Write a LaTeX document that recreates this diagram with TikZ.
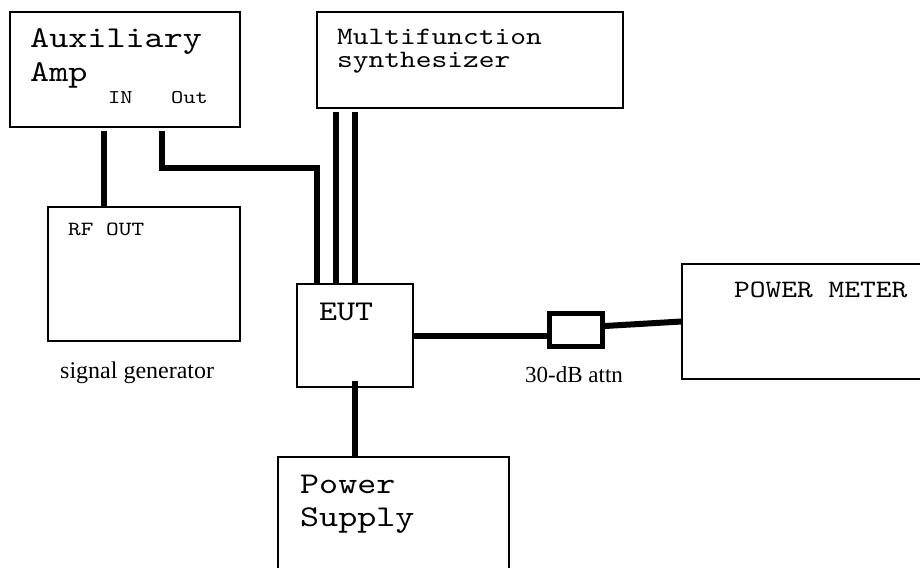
\documentclass[tikz,border=0pt]{standalone}
\usepackage{fontspec}
\setmainfont{Liberation Serif}
\setmonofont[FakeStretch=1.2, Extension=.otf]{lmmono10-regular}

\tikzset{
Box/.style={draw=black, rectangle, line width=1.2pt, inner sep=0pt},
Attn/.style={draw=black, rectangle, line width=5pt, inner sep=0pt,
        minimum width=53pt, minimum height=33pt},
Cable/.style={draw=black, line width=6pt, line cap=butt, line join=miter},
BoxText/.style={anchor=base west, inner sep=0pt, align=left},
Caption/.style={anchor=base west, inner sep=0pt},
}

\begin{document}
\begin{tikzpicture}[x=1pt,y=-1pt]
	\useasboundingbox (0,0) rectangle (920,567);
	% instruments
	\node[Box, minimum width=230pt, minimum height=115pt] (aux) at (125,69.5) {};
	\node[Box, minimum width=306pt, minimum height=96pt] (synth) at (470,60) {};
	\node[Box, minimum width=192pt, minimum height=134pt] (siggen) at (144,274) {};
	\node[Box, minimum width=116pt, minimum height=103pt] (eut) at (355,335.5) {};
	\node[Attn] (attn) at (576,330) {};
	\node[Box, minimum width=248pt, minimum height=115pt] (meter) at (806,321.5) {};
	\node[Box, minimum width=231pt, minimum height=150pt] (psu) at (393.5,532) {};

	% texts (base = last line)
	\node[BoxText, font=\ttfamily\fontsize{30.3}{34}\selectfont] (auxtext) at (30,82) {Auxiliary\\Amp};
	\node[BoxText, font=\ttfamily\fontsize{19.4}{22}\selectfont] (intext) at (108,103) {IN};
	\node[BoxText, font=\ttfamily\fontsize{19.4}{22}\selectfont] (outtext) at (171,103) {Out};
	\node[BoxText, font=\ttfamily\fontsize{25}{23}\selectfont] (synthtext) at (337,68) {Multifunction\\synthesizer};
	\node[BoxText, font=\ttfamily\fontsize{20.1}{24}\selectfont] (rftext) at (68,235) {RF OUT};
	\node[BoxText, font=\ttfamily\fontsize{28.6}{33}\selectfont] (euttext) at (319,320) {EUT};
	\node[BoxText, font=\ttfamily\fontsize{25}{28}\selectfont] (metertext) at (734,297) {POWER METER};
	\node[BoxText, font=\ttfamily\fontsize{30.2}{33}\selectfont] (psutext) at (300,526) {Power\\Supply};
	\node[Caption, font=\rmfamily\fontsize{24}{26}\selectfont] (gencap) at (60,378) {signal generator};
	\node[Caption, font=\rmfamily\fontsize{23}{26}\selectfont] (attncap) at (525,382) {30-dB attn};

	% cables
	\draw[Cable] ([xshift=95pt,yshift=-3pt]aux.south west) -- ([xshift=57pt]siggen.north west);
	\draw[Cable] ([xshift=153pt,yshift=-3pt]aux.south west) -- ++(0,37) -| ([xshift=21pt]eut.north west);
	\foreach \dx in {20,39}{
		\coordinate (syn\dx) at ([xshift=\dx pt]synth.south west);
		\draw[Cable] ([yshift=-3pt]syn\dx) -- (syn\dx |- eut.north);
	}
	\draw[Cable] (eut.east) -- (eut.east -| attn.west);
	\draw[Cable] ([yshift=4pt]attn.east) -- (meter.west);
	\draw[Cable] ([yshift=7pt]eut.south) -- (eut.south |- psu.north);
\end{tikzpicture}
\end{document}
